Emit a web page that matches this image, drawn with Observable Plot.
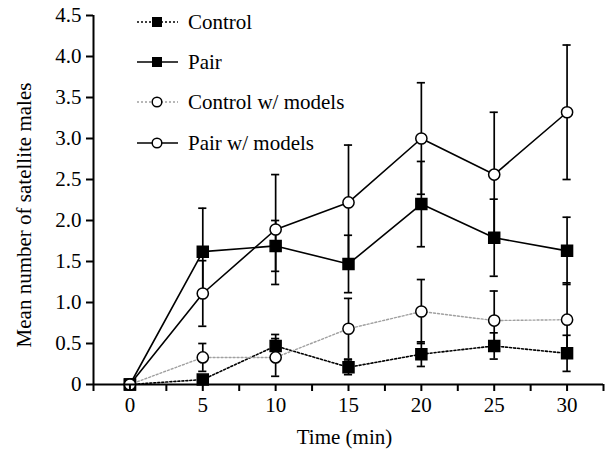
<!DOCTYPE html>
<html>
<head>
<meta charset="utf-8">
<script src="https://cdn.jsdelivr.net/npm/d3@7"></script>
<script src="https://cdn.jsdelivr.net/npm/@observablehq/plot@0.6"></script>
</head>
<body style="margin:0;background:#fff">
<script>
// ---- data ----
const times = [0, 5, 10, 15, 20, 25, 30];
const seriesNames = ["Control", "Pair", "Control w/ models", "Pair w/ models"];
const controlMean = [0, 0.06, 0.47, 0.21, 0.37, 0.47, 0.38];
const controlErr  = [0, 0.04, 0.14, 0.09, 0.15, 0.16, 0.22];
const pairMean    = [0, 1.62, 1.69, 1.47, 2.20, 1.79, 1.63];
const pairErr     = [0, 0.53, 0.31, 0.35, 0.52, 0.47, 0.41];
const controlModelsMean = [0, 0.33, 0.33, 0.68, 0.89, 0.78, 0.79];
const controlModelsErr  = [0, 0.17, 0.23, 0.37, 0.39, 0.36, 0.45];
const pairModelsMean = [0, 1.11, 1.89, 2.22, 3.00, 2.56, 3.32];
const pairModelsErr  = [0, 0.40, 0.67, 0.70, 0.68, 0.76, 0.82];
const xTicks = [-2.5, 0, 2.5, 5, 7.5, 10, 12.5, 15, 17.5, 20, 22.5, 25, 27.5, 30, 32.5];
const xLabels = [0, 5, 10, 15, 20, 25, 30];
const yTicks = [0, 0.5, 1, 1.5, 2, 2.5, 3, 3.5, 4, 4.5];
const xDomain = [-2.5, 32.5];
const yDomain = [0, 4.5];

// ---- styles ----
const styles = {
  "Control":           {symbol: "square", fill: "black", stroke: "black", dash: "2,2", r: 6.2},
  "Pair":              {symbol: "square", fill: "black", stroke: "black", dash: null, r: 6.2},
  "Control w/ models": {symbol: "circle", fill: "white", stroke: "#a0a0a0", dash: "2,2", r: 5.6},
  "Pair w/ models":    {symbol: "circle", fill: "white", stroke: "black", dash: null, r: 5.6}
};
const means = [controlMean, pairMean, controlModelsMean, pairModelsMean];
const errs = [controlErr, pairErr, controlModelsErr, pairModelsErr];

const rows = [];
seriesNames.forEach((s, k) => times.forEach((t, i) => rows.push({series: s, t, m: means[k][i], e: errs[k][i]})));
const errRows = rows.filter(d => d.e > 0);
const capHalf = 0.28;
const font = "Liberation Serif";

const lineMarks = seriesNames.map(s => Plot.line(rows.filter(d => d.series === s), {
  x: "t", y: "m", stroke: styles[s].stroke, strokeWidth: s === "Control w/ models" ? 1.4 : 1.6,
  strokeDasharray: styles[s].dash
}));
const dotMarks = seriesNames.map(s => Plot.dot(rows.filter(d => d.series === s), {
  x: "t", y: "m", symbol: styles[s].symbol, r: styles[s].r,
  fill: styles[s].fill, stroke: "black", strokeWidth: 1.5
}));

const chart = Plot.plot({
  width: 606, height: 452,
  marginLeft: 93, marginRight: 3, marginTop: 15, marginBottom: 68,
  style: {fontFamily: font, fontSize: "21px"},
  x: {domain: xDomain},
  y: {domain: yDomain},
  marks: [
    ...lineMarks,
    Plot.ruleX(errRows, {x: "t", y1: d => d.m - d.e, y2: d => d.m + d.e, stroke: "black", strokeWidth: 1.7}),
    Plot.ruleY(errRows, {x1: d => d.t - capHalf, x2: d => d.t + capHalf, y: d => d.m + d.e, stroke: "black", strokeWidth: 1.7}),
    Plot.ruleY(errRows, {x1: d => d.t - capHalf, x2: d => d.t + capHalf, y: d => d.m - d.e, stroke: "black", strokeWidth: 1.7}),
    ...dotMarks,
    Plot.ruleY([yDomain[0]], {stroke: "black", strokeWidth: 2}),
    Plot.ruleX([xDomain[0]], {stroke: "black", strokeWidth: 2}),
    Plot.axisX({ticks: xTicks, tickSize: 7, tickPadding: 6, strokeWidth: 2,
      tickFormat: d => xLabels.includes(d) ? String(d) : "", label: null, fontSize: 21}),
    Plot.axisY({ticks: yTicks, tickSize: 7, tickPadding: 5, strokeWidth: 2,
      tickFormat: d => d === 0 ? "0" : d3.format(".1f")(d), label: null, fontSize: 21}),
    Plot.text(["Mean number of satellite males"], {frameAnchor: "left", rotate: -90, dx: -69, dy: 15,
      text: d => d, fontSize: 21, textAnchor: "middle", lineAnchor: "middle"}),
    Plot.text(["Time (min)"], {frameAnchor: "bottom", dx: -4, dy: 53,
      text: d => d, fontSize: 21, textAnchor: "middle", lineAnchor: "middle"})
  ]
});
document.body.appendChild(chart);

// force the serif font on every text element as a presentation attribute
d3.select(chart).selectAll("g").attr("font-family", font);
d3.select(chart).selectAll("text").attr("font-family", font);

// ---- legend, inside the same SVG ----
const legend = d3.select(chart).append("g").attr("text-anchor", "start");
const legY = [22, 62, 102, 143];
seriesNames.forEach((s, i) => {
  const st = styles[s];
  const g = legend.append("g").attr("transform", `translate(0,${legY[i]})`);
  g.append("line").attr("x1", 137).attr("x2", 178).attr("y1", 0).attr("y2", 0)
    .attr("stroke", st.stroke).attr("stroke-width", 1.6).attr("stroke-dasharray", st.dash);
  if (st.symbol === "square") {
    g.append("rect").attr("x", 152).attr("y", -5).attr("width", 10).attr("height", 10).attr("fill", "black");
  } else {
    g.append("circle").attr("cx", 157).attr("cy", 0).attr("r", 4.8).attr("fill", "white")
      .attr("stroke", "black").attr("stroke-width", 1.5);
  }
  g.append("text").attr("x", 188).attr("y", 0).attr("dy", "0.35em").attr("text-anchor", "start")
    .attr("font-family", font).attr("font-size", 21).attr("fill", "black").text(s);
});
</script>
</body>
</html>
